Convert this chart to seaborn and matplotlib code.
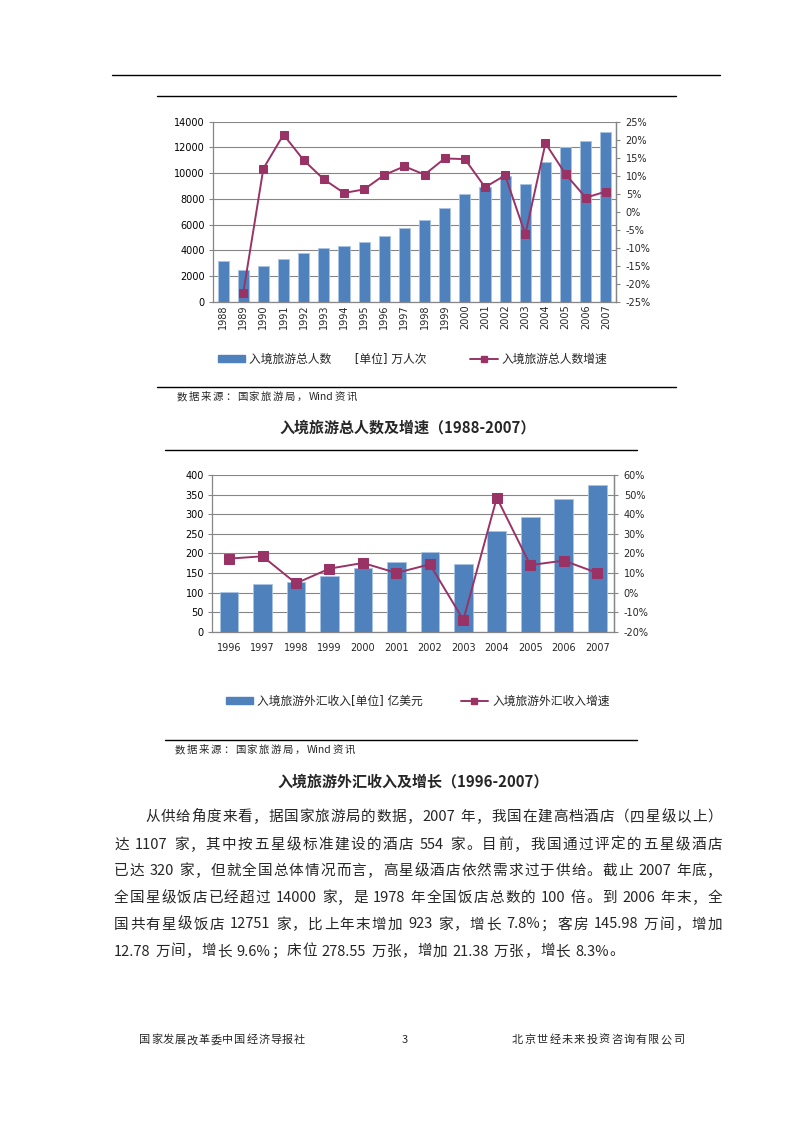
import re
import numpy as np
import pandas as pd
import matplotlib
matplotlib.use("Agg")
import matplotlib.pyplot as plt
import seaborn as sns
from matplotlib.lines import Line2D
from matplotlib.patches import Patch
from matplotlib.ticker import FuncFormatter, MultipleLocator
from matplotlib.font_manager import FontProperties

# ---------------- data ----------------
years1 = [str(y) for y in range(1988, 2008)]
arrivals = [3169, 2450, 2746, 3335, 3811, 4153, 4368, 4639, 5113, 5759,
            6348, 7280, 8344, 8901, 9791, 9166, 10904, 12029, 12494, 13187]
arrival_growth = [np.nan, -22.6, 12.0, 21.4, 14.3, 9.0, 5.2, 6.2, 10.2, 12.6,
                  10.3, 14.8, 14.6, 6.8, 10.1, -6.3, 19.0, 10.4, 3.9, 5.6]

years2 = [str(y) for y in range(1996, 2008)]
receipts = [102, 121, 126, 141, 162, 178, 204, 174, 257, 293, 339, 375]
receipt_growth = [17.3, 18.5, 4.7, 12.2, 15.1, 10.0, 14.4, -14.0, 48.4, 14.0, 16.3, 10.0]

legend1 = ["入境旅游总人数　　[单位] 万人次", "入境旅游总人数增速"]
legend2 = ["入境旅游外汇收入[单位] 亿美元", "入境旅游外汇收入增速"]
source_text = "数据来源：国家旅游局，Wind资讯"
title1 = "入境旅游总人数及增速（1988-2007）"
title2 = "入境旅游外汇收入及增长（1996-2007）"
paragraph = [
    "从供给角度来看，据国家旅游局的数据，2007 年，我国在建高档酒店（四星级以上）",
    "达 1107 家，其中按五星级标准建设的酒店 554 家。目前，我国通过评定的五星级酒店",
    "已达 320 家，但就全国总体情况而言，高星级酒店依然需求过于供给。截止 2007 年底，",
    "全国星级饭店已经超过 14000 家，是 1978 年全国饭店总数的 100 倍。到 2006 年末，全",
    "国共有星级饭店 12751 家，比上年末增加 923 家，增长 7.8%；客房 145.98 万间，增加",
    "12.78 万间，增长 9.6%；床位 278.55 万张，增加 21.38 万张，增长 8.3%。",
]
footer_left = "国家发展改革委中国经济导报社"
footer_mid = "3"
footer_right = "北京世经未来投资咨询有限公司"

# ---------------- style ----------------
sns.set_style("white")
plt.rcParams["font.family"] = ["DejaVu Sans", "Noto Sans CJK SC"]
plt.rcParams["axes.unicode_minus"] = False

BLUE = "#4F81BD"
EDGE = "#A9C4E4"
MAROON = "#993366"
GRAY = "#868686"
CJK = ["Noto Sans CJK SC", "DejaVu Sans"]

W, H = 794, 1123
fig = plt.figure(figsize=(W / 100, H / 100), dpi=100)
renderer = fig.canvas.get_renderer()


def fx(x):
    return x / W


def fy(y):
    return 1 - y / H


def hline(x0, x1, y, lw=1.0, color="black"):
    fig.add_artist(Line2D([fx(x0), fx(x1)], [fy(y), fy(y)], transform=fig.transFigure,
                          color=color, lw=lw))


def justified(text, x0, x1, y, fp, **kw):
    """Place text spread evenly between x0 and x1 (pixel coords)."""
    def tw(s):
        return renderer.get_text_width_height_descent(s, fp, ismath=False)[0]
    base = tw("国国")

    def adv(s):
        return 0.0 if s == "" else tw("国" + s + "国") - base

    toks = re.findall(r"[0-9A-Za-z.%]+|\s|.", text)
    total = adv(text)
    extra = (x1 - x0 - total) / max(len(toks) - 1, 1)
    for i, t in enumerate(toks):
        if t.isspace():
            continue
        x = x0 + adv("".join(toks[:i])) + i * extra
        fig.text(fx(x), fy(y), t, fontproperties=fp, ha="left", va="center", **kw)


def draw_chart(rect, cats, bars, growth, lstep, llim, rstep, rlim, rotate,
               bar_w, ms, xpad):
    ax = fig.add_axes(rect)
    df = pd.DataFrame({"year": cats, "value": bars})
    sns.barplot(data=df, x="year", y="value", color=BLUE, saturation=1,
                width=bar_w, edgecolor=EDGE, linewidth=0.6, ax=ax, zorder=2)
    ax.set_xlim(-0.5, len(cats) - 0.5)
    ax.set_ylim(*llim)
    ax.yaxis.set_major_locator(MultipleLocator(lstep))
    ax.set_axisbelow(True)
    ax.yaxis.grid(True, color=GRAY, lw=0.8)
    ax.xaxis.grid(False)
    ax.set_xlabel("")
    ax.set_ylabel("")
    ax.spines["top"].set_visible(False)
    for s in ["left", "bottom", "right"]:
        ax.spines[s].set_color(GRAY)
        ax.spines[s].set_linewidth(0.9)
    ax.tick_params(axis="y", length=3, color=GRAY, width=0.8, labelsize=7,
                   pad=3, left=True, labelcolor="black")
    ax.tick_params(axis="x", length=0, labelsize=7, pad=xpad,
                   labelrotation=90 if rotate else 0)

    ax2 = ax.twinx()
    pos = np.arange(len(cats))
    g = pd.DataFrame({"pos": pos, "growth": growth}).dropna()
    sns.lineplot(data=g, x="pos", y="growth", color=MAROON, marker="s",
                 markersize=ms, markeredgecolor=MAROON, linewidth=1.4,
                 estimator=None, legend=False, ax=ax2)
    ax2.set_ylim(*rlim)
    ax2.yaxis.set_major_locator(MultipleLocator(rstep))
    ax2.yaxis.set_major_formatter(FuncFormatter(lambda v, p: f"{v:.0f}%"))
    ax2.set_ylabel("")
    ax2.set_xlabel("")
    for s in ["top", "left", "bottom"]:
        ax2.spines[s].set_visible(False)
    ax2.spines["right"].set_color(GRAY)
    ax2.spines["right"].set_linewidth(0.9)
    ax2.tick_params(axis="y", length=3, color=GRAY, width=0.8, labelsize=7,
                    pad=4, right=True)
    ax2.grid(False)
    ax.set_xlim(-0.5, len(cats) - 0.5)
    return ax, ax2


def add_legend(labels, x, y, colspace, ms):
    handles = [Patch(facecolor=BLUE, edgecolor=BLUE),
               Line2D([], [], color=MAROON, marker="s", markersize=ms, lw=1.4)]
    fig.legend(handles=handles, labels=labels, loc="center left",
               bbox_to_anchor=(fx(x), fy(y)), ncol=2, frameon=False,
               fontsize=8.5, handlelength=2.3, handleheight=0.55,
               handletextpad=0.35, columnspacing=colspace, borderpad=0,
               borderaxespad=0)


src_fp = FontProperties(family=CJK, size=7.5)
title_fp = FontProperties(family=CJK, size=10.8, weight="bold")
foot_fp = FontProperties(family=CJK, size=8)

# ---------------- page furniture ----------------
hline(112, 720, 75)

# chart 1
hline(157, 676, 95.5)
hline(157, 676, 386.5)
draw_chart([fx(213), fy(301.7), 403 / W, 180 / H], years1, arrivals, arrival_growth,
           2000, (0, 14000), 5, (-25, 25), True, 0.55, 5.8, 2)
add_legend(legend1, 218, 359, 3.7, 5)
justified(source_text, 177, 357, 397, src_fp)
fig.text(fx(408), fy(428), title1, fontproperties=title_fp, ha="center", va="center")

# chart 2
hline(165, 637, 449.5)
hline(165, 637, 740)
draw_chart([fx(212.3), fy(631.7), 401.7 / W, 156.7 / H], years2, receipts, receipt_growth,
           50, (0, 400), 10, (-20, 60), False, 0.56, 6.5, 8)
add_legend(legend2, 226, 701, 3.2, 5)
justified(source_text, 175, 355, 750, src_fp)
fig.text(fx(413), fy(781.5), title2, fontproperties=title_fp, ha="center", va="center")

# ---------------- justified paragraph ----------------
para_fp = FontProperties(family=CJK, size=10.5)
line_ys = [817, 845, 871, 898, 924.5, 951.5]
line_x0 = [145, 114, 114, 114, 114, 114]
line_x1 = [722, 722, 722, 722, 722, 624]
for text, y, x0, x1 in zip(paragraph, line_ys, line_x0, line_x1):
    justified(text, x0, x1, y, para_fp)

# ---------------- footer ----------------
justified(footer_left, 139, 305, 1040, foot_fp)
fig.text(fx(405), fy(1040), footer_mid, fontproperties=foot_fp, ha="center", va="center")
justified(footer_right, 512, 684, 1040, foot_fp)

fig.savefig("out.png", dpi=100, facecolor="white")
